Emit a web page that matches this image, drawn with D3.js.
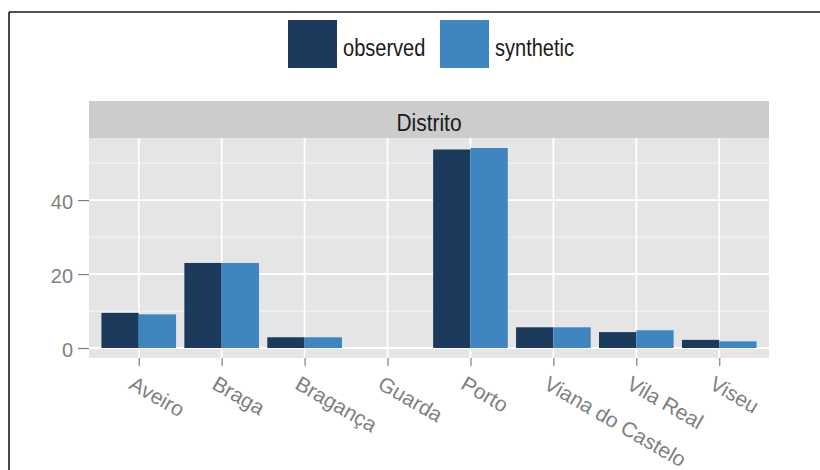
<!DOCTYPE html>
<html>
<head>
<meta charset="utf-8">
<script src="https://cdn.jsdelivr.net/npm/d3@7"></script>
<style>
  html, body { margin: 0; padding: 0; background: #ffffff; }
  svg { display: block; font-family: "Liberation Sans", Arial, sans-serif; }
</style>
</head>
<body>
<svg id="chart" width="820" height="470"></svg>
<script>
// Districts on the x axis
const districts = ["Aveiro", "Braga", "Bragança", "Guarda", "Porto", "Viana do Castelo", "Vila Real", "Viseu"];
// Series names, in dodge order
const seriesNames = ["observed", "synthetic"];
// Values per district
const observed  = [9.5, 23.0, 2.9, 0, 53.7, 5.6, 4.3, 2.2];
const synthetic = [9.1, 23.0, 2.9, 0, 54.1, 5.6, 4.8, 1.8];
// Y axis ticks
const yMajorTicks = [0, 20, 40];
const yMinorTicks = [10, 30, 50];
const facetLabel = "Distrito";

const colors = { observed: "#1c3a5b", synthetic: "#3f86c0" };
const seriesValues = { observed, synthetic };

const svg = d3.select("#chart");

// Narrow a text element horizontally by a factor, keeping its height
function condense(sel, factor) {
  sel.each(function () {
    const w = this.getComputedTextLength();
    d3.select(this).attr("textLength", w * factor).attr("lengthAdjust", "spacingAndGlyphs");
  });
}

// Outer frame (top and left edges)
svg.append("line").attr("x1", 9).attr("x2", 820).attr("y1", 12).attr("y2", 12)
  .attr("stroke", "#1a1a1a").attr("stroke-width", 1.6);
svg.append("line").attr("x1", 9).attr("x2", 9).attr("y1", 12).attr("y2", 470)
  .attr("stroke", "#1a1a1a").attr("stroke-width", 1.6);

// Panel geometry
const panel = { left: 89, right: 769, top: 138, bottom: 358 };
const strip = { top: 101, bottom: 138 };

// Discrete x scale with 0.6 unit padding at each end
const xCat = d3.scalePoint().domain(districts)
  .range([panel.left, panel.right]).padding(0.6);
const step = xCat.step();
const xSub = d3.scaleBand().domain(seriesNames).range([-0.45 * step, 0.45 * step]).padding(0);

// Continuous y scale with 5% expansion
const maxV = d3.max([...observed, ...synthetic]);
const pad = maxV * 0.05;
const y = d3.scaleLinear().domain([-pad, maxV + pad]).range([panel.bottom, panel.top]);

// Strip
svg.append("rect").attr("x", panel.left).attr("y", strip.top)
  .attr("width", panel.right - panel.left).attr("height", strip.bottom - strip.top)
  .attr("fill", "#cccccc");
svg.append("text").attr("x", (panel.left + panel.right) / 2).attr("y", 131)
  .attr("text-anchor", "middle")
  .attr("font-size", 23).attr("fill", "#1a1a1a").text(facetLabel)
  .call(condense, 0.91);

// Panel background
svg.append("rect").attr("x", panel.left).attr("y", panel.top)
  .attr("width", panel.right - panel.left).attr("height", panel.bottom - panel.top)
  .attr("fill", "#e5e5e5");

// Grid lines
const grid = svg.append("g");
grid.selectAll(".minor").data(yMinorTicks).join("line")
  .attr("x1", panel.left).attr("x2", panel.right)
  .attr("y1", d => y(d)).attr("y2", d => y(d))
  .attr("stroke", "#f2f2f2").attr("stroke-width", 1.2);
grid.selectAll(".major").data(yMajorTicks).join("line")
  .attr("x1", panel.left).attr("x2", panel.right)
  .attr("y1", d => y(d)).attr("y2", d => y(d))
  .attr("stroke", "#ffffff").attr("stroke-width", 1.8);
grid.selectAll(".vmajor").data(districts).join("line")
  .attr("x1", d => xCat(d)).attr("x2", d => xCat(d))
  .attr("y1", panel.top).attr("y2", panel.bottom)
  .attr("stroke", "#ffffff").attr("stroke-width", 1.8);

// Bars
const bars = svg.append("g");
districts.forEach((d, i) => {
  seriesNames.forEach(s => {
    const v = seriesValues[s][i];
    bars.append("rect")
      .attr("x", xCat(d) + xSub(s))
      .attr("width", xSub.bandwidth())
      .attr("y", y(Math.max(v, 0)))
      .attr("height", Math.abs(y(0) - y(v)))
      .attr("fill", colors[s]);
  });
});

// Y axis
const yAxis = d3.axisLeft(y).tickValues(yMajorTicks).tickSize(11).tickPadding(5);
const gy = svg.append("g").attr("transform", `translate(${panel.left},0)`).call(yAxis);
gy.select(".domain").remove();
gy.selectAll(".tick line").attr("stroke", "#7f7f7f").attr("stroke-width", 1.2);
gy.selectAll(".tick text").attr("font-size", 21).attr("fill", "#7f7f7f")
  .attr("font-family", "'Liberation Sans', Arial, sans-serif")
  .attr("dy", null).attr("y", 8.5)
  .call(condense, 0.95);

// X axis
const xAxis = d3.axisBottom(xCat).tickSize(8).tickPadding(0);
const gx = svg.append("g").attr("transform", `translate(0,${panel.bottom})`).call(xAxis);
gx.select(".domain").remove();
gx.selectAll(".tick line").attr("stroke", "#7f7f7f").attr("stroke-width", 1.2);
gx.selectAll(".tick text")
  .attr("font-size", 21).attr("fill", "#7f7f7f")
  .attr("font-family", "'Liberation Sans', Arial, sans-serif")
  .attr("text-anchor", "start")
  .attr("x", 0).attr("y", 0).attr("dy", "0.71em")
  .attr("transform", "translate(-4,17) rotate(30)");

// Legend
const legend = svg.append("g");
const keyW = 49, keyH = 48, keyY = 20;
const legendItems = [
  { name: "observed", x: 288 },
  { name: "synthetic", x: 440 }
];
legendItems.forEach(it => {
  legend.append("rect").attr("x", it.x).attr("y", keyY).attr("width", keyW).attr("height", keyH)
    .attr("fill", colors[it.name]);
  legend.append("text").attr("x", it.x + keyW + 6).attr("y", 56)
    .attr("font-size", 23).attr("fill", "#1a1a1a").text(it.name)
    .call(condense, 0.87);
});
</script>
</body>
</html>
